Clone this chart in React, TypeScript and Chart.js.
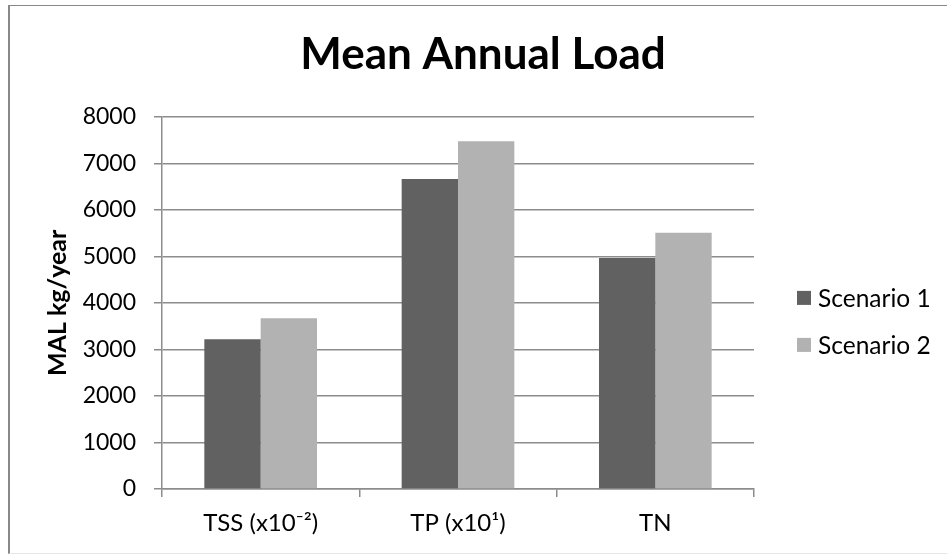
import React, { useEffect, useRef } from "react";
import { Chart, registerables } from "chart.js";

Chart.register(...registerables);

const categories = ["TSS (x10⁻²)", "TP (x10¹)", "TN"];
const seriesNames = ["Scenario 1", "Scenario 2"];
const scenario1 = [3220, 6663, 4963];
const scenario2 = [3671, 7473, 5508];
const seriesColors = ["#616161", "#b2b2b2"];
const yMin = 0;
const yMax = 8000;
const yStep = 1000;
const chartTitle = "Mean Annual Load";
const yAxisTitle = "MAL kg/year";

const FONT = "Lato, 'Open Sans', sans-serif";
const GRID = "#8c8c8c";

const sideLegend = {
  id: "sideLegend",
  afterDraw(chart: any) {
    const { ctx, chartArea } = chart;
    const mid = (chartArea.top + chartArea.bottom) / 2;
    const x = chartArea.right + 43;
    ctx.save();
    ctx.font = `24.5px ${FONT}`;
    ctx.textBaseline = "middle";
    ctx.textAlign = "left";
    chart.data.datasets.forEach((ds: any, i: number) => {
      const yc = mid + 18.5 + (i - 0.5) * 47;
      ctx.fillStyle = ds.backgroundColor;
      ctx.fillRect(x, yc - 7, 14, 14);
      ctx.fillStyle = "#000";
      ctx.fillText(ds.label, x + 21, yc + 1);
    });
    ctx.restore();
  },
};

export default function App() {
  const ref = useRef<HTMLCanvasElement | null>(null);

  useEffect(() => {
    if (!ref.current) return;
    const chart = new Chart(ref.current, {
      type: "bar",
      data: {
        labels: categories,
        datasets: [
          { label: seriesNames[0], data: scenario1, backgroundColor: seriesColors[0] },
          { label: seriesNames[1], data: scenario2, backgroundColor: seriesColors[1] },
        ],
      },
      options: {
        responsive: false,
        animation: false,
        devicePixelRatio: 1,
        layout: { padding: { left: 0, right: 0, top: 0, bottom: 0 } },
        datasets: { bar: { categoryPercentage: 0.571, barPercentage: 1.0 } },
        plugins: {
          legend: { display: false },
          tooltip: { enabled: false },
          title: {
            display: true,
            text: chartTitle,
            color: "#000",
            font: { family: FONT, size: 44, weight: "bold", lineHeight: 1.2 },
            padding: { top: 28, bottom: 36 },
          },
        },
        scales: {
          x: {
            afterFit: (s: any) => {
              s.height = 66;
            },
            grid: {
              drawOnChartArea: false,
              drawTicks: true,
              tickLength: 8,
              color: GRID,
              lineWidth: 1.5,
              offset: true,
            },
            border: { color: GRID, width: 1.5 },
            ticks: {
              color: "#000",
              padding: 12,
              font: { family: FONT, size: 24 },
              maxRotation: 0,
            },
          },
          y: {
            min: yMin,
            max: yMax,
            afterFit: (s: any) => {
              s.width = 162;
            },
            grid: { color: GRID, lineWidth: 1.5, tickLength: 8, tickColor: GRID },
            border: { color: GRID, width: 1.5 },
            ticks: {
              stepSize: yStep,
              color: "#000",
              padding: 18,
              font: { family: FONT, size: 23 },
              callback: (v: any) => String(v),
            },
            title: {
              display: true,
              text: yAxisTitle,
              color: "#000",
              font: { family: FONT, size: 25, weight: "bold", lineHeight: 1.2 },
              padding: { top: 43, bottom: 0 },
            },
          },
          legendSpace: {
            type: "linear",
            position: "right",
            display: true,
            afterFit: (s: any) => {
              s.width = 212;
            },
            grid: { display: false, drawTicks: false },
            border: { display: false },
            ticks: { display: false },
          },
        },
      },
      plugins: [sideLegend],
    });
    return () => chart.destroy();
  }, []);

  return (
    <div
      style={{
        position: "fixed",
        left: 0,
        top: 0,
        width: 947,
        height: 555,
        overflow: "hidden",
        background: "#fff",
      }}
    >
      <div
        style={{
          position: "absolute",
          left: 8,
          top: 5,
          width: 960,
          height: 547,
          borderLeft: "2px solid #888",
          borderTop: "1px solid #888",
          borderBottom: "1px solid #e6e6e6",
        }}
      />
      <canvas
        ref={ref}
        width={966}
        height={555}
        style={{ position: "absolute", left: 0, top: 0, width: 966, height: 555 }}
      />
    </div>
  );
}
